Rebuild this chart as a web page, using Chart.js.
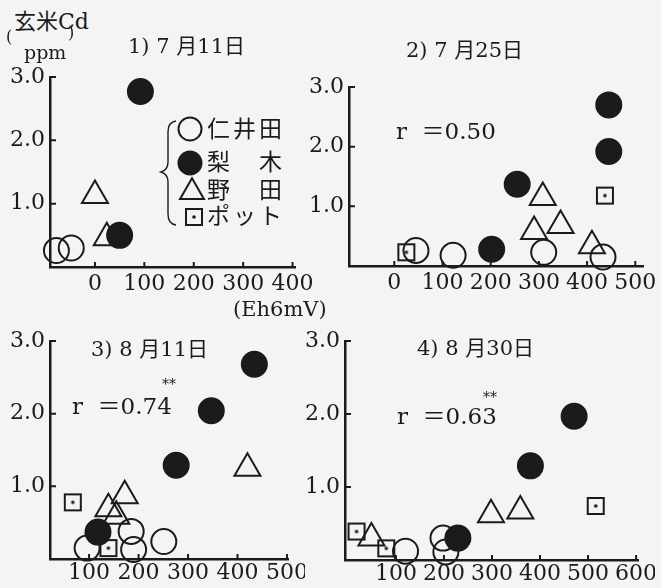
<!DOCTYPE html>
<html>
<head>
<meta charset="utf-8">
<script src="https://cdn.jsdelivr.net/npm/chart.js@4.4.0/dist/chart.umd.min.js"></script>
<style>
  body { margin: 0; width: 661px; height: 588px; position: relative; overflow: hidden;
         background: #f4f4f4; color: #1b1b1b; font-family: "DejaVu Serif", "Noto Sans CJK JP", serif; }
  canvas { position: absolute; }
  .t { position: absolute; white-space: pre; line-height: 1; }
</style>
</head>
<body>
<canvas id="c1"></canvas>
<canvas id="c2"></canvas>
<canvas id="c3"></canvas>
<canvas id="c4"></canvas>

<div class="t" style="left:14px;top:11px;font-size:22px">玄米Cd</div>
<div class="t" style="left:6px;top:29px;font-size:16px">(</div>
<div class="t" style="left:24px;top:43px;font-size:19px">ppm</div>
<div class="t" style="left:68px;top:25px;font-size:16px">)</div>

<div class="t" style="left:128px;top:36px;font-size:21px">1) 7 月11日</div>
<div class="t" style="left:406px;top:40px;font-size:21px">2) 7 月25日</div>
<div class="t" style="left:91px;top:339px;font-size:21px">3) 8 月11日</div>
<div class="t" style="left:417px;top:338px;font-size:21px">4) 8 月30日</div>

<div class="t" style="left:396px;top:120px;font-size:23px">r  ＝0.50</div>
<div class="t" style="left:72px;top:395px;font-size:23px">r  ＝0.74</div>
<div class="t" style="left:162px;top:377px;font-size:14px">**</div>
<div class="t" style="left:397px;top:405px;font-size:23px">r  ＝0.63</div>
<div class="t" style="left:483px;top:390px;font-size:14px">**</div>

<div class="t" style="left:233px;top:299px;font-size:21px">(Eh6mV)</div>

<div class="t" style="left:207px;top:118px;font-size:23px;letter-spacing:3px">仁井田</div>
<div class="t" style="left:207px;top:151px;font-size:23px;letter-spacing:3px">梨　木</div>
<div class="t" style="left:207px;top:179px;font-size:23px;letter-spacing:3px">野　田</div>
<div class="t" style="left:207px;top:205px;font-size:23px;letter-spacing:3px">ポット</div>

<script>
const ink = '#1b1b1b';

const seriesNames = ['仁井田', '梨\u3000木', '野\u3000田', 'ポット'];
const yTicks = [1, 2, 3];

// [Eh6 (mV), brown rice Cd (ppm)]
const jul11Niida = [[-78, 0.26], [-48, 0.30]];
const jul11Nashiki = [[50, 0.50], [92, 2.77]];
const jul11Noda = [[0, 1.13], [24, 0.46]];
const jul11Pot = [];

const jul25Niida = [[45, 0.26], [122, 0.18], [310, 0.23], [433, 0.15]];
const jul25Nashiki = [[202, 0.28], [255, 1.37], [445, 1.92], [445, 2.70]];
const jul25Noda = [[290, 0.58], [308, 1.15], [345, 0.68], [410, 0.34]];
const jul25Pot = [[25, 0.23], [437, 1.18]];

const aug11Niida = [[96, 0.15], [185, 0.38], [190, 0.13], [251, 0.24]];
const aug11Nashiki = [[118, 0.37], [276, 1.29], [347, 2.04], [434, 2.68]];
const aug11Noda = [[139, 0.69], [155, 0.59], [172, 0.87], [420, 1.25]];
const aug11Pot = [[67, 0.78], [139, 0.15]];

const aug30Niida = [[120, 0.12], [198, 0.30], [204, 0.11]];
const aug30Nashiki = [[229, 0.30], [380, 1.29], [471, 1.97]];
const aug30Noda = [[49, 0.30], [298, 0.62], [359, 0.67]];
const aug30Pot = [[18, 0.39], [80, 0.16], [516, 0.74]];

const xTicks1 = [0, 100, 200, 300, 400];
const xTicks2 = [0, 100, 200, 300, 400, 500];
const xTicks3 = [100, 200, 300, 400, 500];
const xTicks4 = [100, 200, 300, 400, 500, 600];

// little square with a dot for the pot samples
function potImage() {
  const c = document.createElement('canvas');
  c.width = 20; c.height = 20;
  const g = c.getContext('2d');
  g.strokeStyle = ink; g.lineWidth = 2;
  g.strokeRect(2, 2, 16, 16);
  g.fillStyle = ink;
  g.beginPath(); g.arc(10, 10, 1.8, 0, Math.PI * 2); g.fill();
  return c;
}

const markStyles = [
  { pointStyle: 'circle', pointRadius: 12.5, pointBorderWidth: 2, pointBackgroundColor: 'rgba(0,0,0,0)' },
  { pointStyle: 'circle', pointRadius: 12.5, pointBorderWidth: 2, pointBackgroundColor: ink },
  { pointStyle: 'triangle', pointRadius: 15, pointBorderWidth: 2, pointBackgroundColor: 'rgba(0,0,0,0)' },
  { pointStyle: potImage(), pointRadius: 10, pointBorderWidth: 0, pointBackgroundColor: 'rgba(0,0,0,0)' }
];

const innerTicks = {
  id: 'innerTicks',
  afterDraw(chart) {
    const { ctx, chartArea: a, scales: { x, y } } = chart;
    ctx.save();
    ctx.strokeStyle = ink; ctx.lineWidth = 2;
    ctx.beginPath();
    x.ticks.forEach(t => {
      const px = x.getPixelForValue(t.value);
      ctx.moveTo(px, a.bottom); ctx.lineTo(px, a.bottom - 5);
    });
    y.ticks.forEach(t => {
      const py = y.getPixelForValue(t.value);
      ctx.moveTo(a.left, py); ctx.lineTo(a.left + 6, py);
    });
    ctx.stroke();
    ctx.restore();
  }
};

// legend symbols + brace, only on the first panel
const legendMarks = {
  id: 'legendMarks',
  afterDraw(chart, args, opts) {
    if (!opts.rows) return;
    const ctx = chart.ctx;
    const [ox, oy] = opts.offset;
    ctx.save();
    chart.data.datasets.forEach((ds, i) => {
      const [px, py] = opts.rows[i];
      ctx.fillStyle = ds.pointBackgroundColor;
      ctx.strokeStyle = ink;
      ctx.lineWidth = ds.pointBorderWidth;
      Chart.helpers.drawPoint(ctx, {
        pointStyle: ds.pointStyle, radius: ds.pointRadius * 0.92,
        borderWidth: ds.pointBorderWidth, rotation: 0
      }, px - ox, py - oy);
    });
    ctx.beginPath();
    ctx.moveTo(176 - ox, 121 - oy);
    ctx.quadraticCurveTo(168 - ox, 122 - oy, 168 - ox, 132 - oy);
    ctx.lineTo(168 - ox, 162 - oy);
    ctx.quadraticCurveTo(168 - ox, 170 - oy, 161 - ox, 172 - oy);
    ctx.quadraticCurveTo(168 - ox, 174 - oy, 168 - ox, 182 - oy);
    ctx.lineTo(168 - ox, 214 - oy);
    ctx.quadraticCurveTo(168 - ox, 224 - oy, 176 - ox, 225 - oy);
    ctx.strokeStyle = ink; ctx.lineWidth = 1.4;
    ctx.stroke();
    ctx.restore();
  }
};

function makePanel(id, area, xMin, xMax, xTicks, labelPad, series, legend) {
  const yw = 50, xh = 32, padT = 10, padR = 12;
  const left = area.left - yw, top = area.top - padT;
  const width = area.right + padR - left;
  const height = Math.min(588, area.bottom + xh) - top;
  const cv = document.getElementById(id);
  cv.width = width; cv.height = height;
  cv.style.left = left + 'px'; cv.style.top = top + 'px';
  const xHeight = top + height - area.bottom;

  const datasets = series.map((pts, i) => Object.assign({
    label: seriesNames[i],
    data: pts.map(p => ({ x: p[0], y: p[1] })),
    pointBorderColor: ink,
    showLine: false,
    clip: false
  }, markStyles[i]));

  new Chart(cv, {
    type: 'scatter',
    data: { datasets },
    options: {
      responsive: false,
      animation: false,
      layout: { padding: { top: padT, right: padR, left: 0, bottom: 0 } },
      plugins: {
        legend: { display: false },
        tooltip: { enabled: false },
        legendMarks: legend ? { rows: legend, offset: [left, top] } : {}
      },
      scales: {
        x: {
          type: 'linear', min: xMin, max: xMax,
          grid: { display: false, drawTicks: false },
          border: { display: true, color: ink, width: 2.5 },
          afterBuildTicks: s => { s.ticks = xTicks.map(v => ({ value: v })); },
          afterFit: s => { s.height = xHeight; s.paddingLeft = 0; s.paddingRight = 0; },
          ticks: { color: ink, padding: labelPad, maxRotation: 0, autoSkip: false,
                   font: { family: 'DejaVu Serif', size: 22 },
                   callback: v => String(v) }
        },
        y: {
          type: 'linear', min: 0, max: 3,
          grid: { display: false, drawTicks: false },
          border: { display: true, color: ink, width: 2.5 },
          afterBuildTicks: s => { s.ticks = yTicks.map(v => ({ value: v })); },
          afterFit: s => { s.width = yw; s.paddingTop = 0; s.paddingBottom = 0; },
          ticks: { color: ink, padding: 5, font: { family: 'DejaVu Serif', size: 22 },
                   callback: v => v.toFixed(1) }
        }
      }
    },
    plugins: [innerTicks, legendMarks]
  });
}

makePanel('c1', { left: 50, top: 70, right: 300, bottom: 267 }, -91, 405, xTicks1, 4,
  [jul11Niida, jul11Nashiki, jul11Noda, jul11Pot],
  [[190, 129], [190, 163], [192, 192], [194, 217]]);
makePanel('c2', { left: 349, top: 80, right: 648, bottom: 266 }, -94, 516, xTicks2, 4,
  [jul25Niida, jul25Nashiki, jul25Noda, jul25Pot]);
makePanel('c3', { left: 50, top: 334, right: 293, bottom: 559 }, 21, 502, xTicks3, 1,
  [aug11Niida, aug11Nashiki, aug11Noda, aug11Pot]);
makePanel('c4', { left: 345, top: 334, right: 643, bottom: 560 }, -6, 604, xTicks4, 1,
  [aug30Niida, aug30Nashiki, aug30Noda, aug30Pot]);
</script>
</body>
</html>
